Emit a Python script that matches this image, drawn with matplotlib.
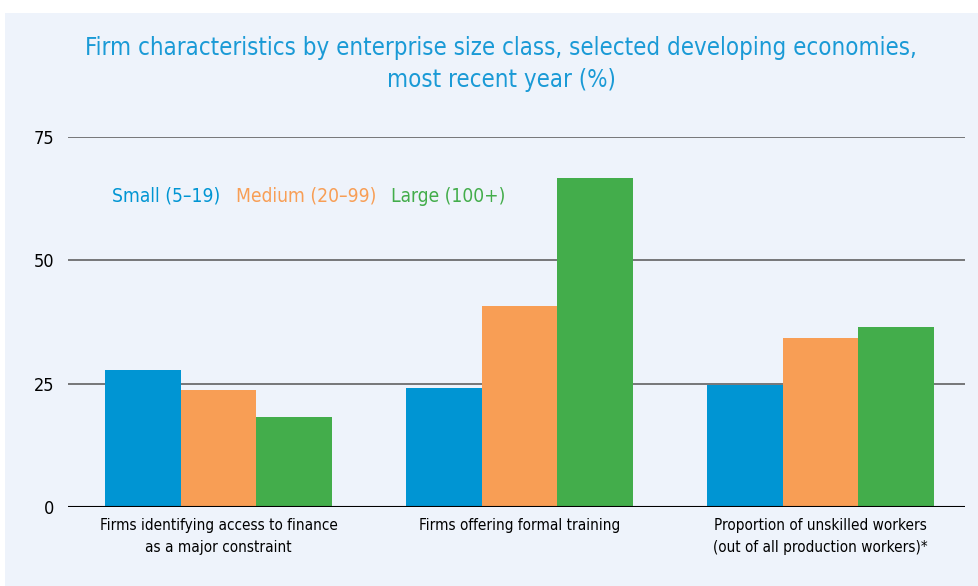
import numpy as np
import matplotlib.pyplot as plt
from matplotlib.patches import Rectangle

# ---------------------
# DATA
# ---------------------
categories = ["Firms identifying access to finance\nas a major constraint",
              "Firms offering formal training",
              "Proportion of unskilled workers\n(out of all production workers)*"]
series_names = ["Small (5\u201319)", "Medium (20\u201399)", "Large (100+)"]
small = [27.8, 24.1, 24.8]
medium = [23.7, 40.7, 34.2]
large = [18.2, 66.7, 36.4]
yticks = [0, 25, 50, 75]

colors = ["#0095d3", "#f89e55", "#43ad4b"]
bg = "#eef3fb"
title_color = "#1a9ad6"

plt.rcParams['font.family'] = ['DejaVu Sans']
plt.rcParams['font.stretch'] = 'condensed'

fig = plt.figure(figsize=(9.79, 5.86), dpi=100)
fig.patch.set_facecolor("white")
# light panel behind the chart
fig.patches.append(Rectangle((5 / 979, 0), 1, 1 - 13 / 586, transform=fig.transFigure,
                             facecolor=bg, edgecolor="none", zorder=-10))

ax = fig.add_axes([68 / 979, 79 / 586, (965 - 68) / 979, (507 - 137) / 586])
ax.set_facecolor(bg)
ax.patch.set_alpha(0)

x = np.arange(len(categories))
w = 0.252
for i, (vals, name) in enumerate(zip([small, medium, large], series_names)):
    ax.bar(x + (i - 1) * w, vals, width=w, color=colors[i], label=name, zorder=3)

ax.set_xlim(-0.5, 2.48)
ax.set_ylim(0, 75)
ax.set_yticks(yticks)
ax.set_xticks(x)
ax.set_xticklabels(categories, fontsize=11, stretch='condensed', linespacing=1.55)
ax.tick_params(axis='x', length=0, pad=8)
ax.tick_params(axis='y', length=0, pad=10, labelsize=13)
for lab in ax.get_yticklabels():
    lab.set_stretch('condensed')
ax.grid(axis='y', color='#555555', linewidth=1.1, zorder=1)
ax.axhline(0, color='black', linewidth=1.5, zorder=4)
for s in ax.spines.values():
    s.set_visible(False)

leg = ax.legend(ncol=3, frameon=False, handlelength=0, handletextpad=0,
                columnspacing=0.8, labelcolor='linecolor',
                prop={'size': 13.8, 'stretch': 'condensed'},
                loc='center left', bbox_to_anchor=(0.03, 0.84))
for h in leg.legend_handles:
    h.set_visible(False)

fig.text(0.512, 1 - 64 / 586,
         "Firm characteristics by enterprise size class, selected developing economies,\nmost recent year (%)",
         ha='center', va='center', color=title_color, fontsize=17.2, stretch='condensed',
         linespacing=1.4)

plt.savefig("out.png", dpi=100, facecolor=fig.get_facecolor())
